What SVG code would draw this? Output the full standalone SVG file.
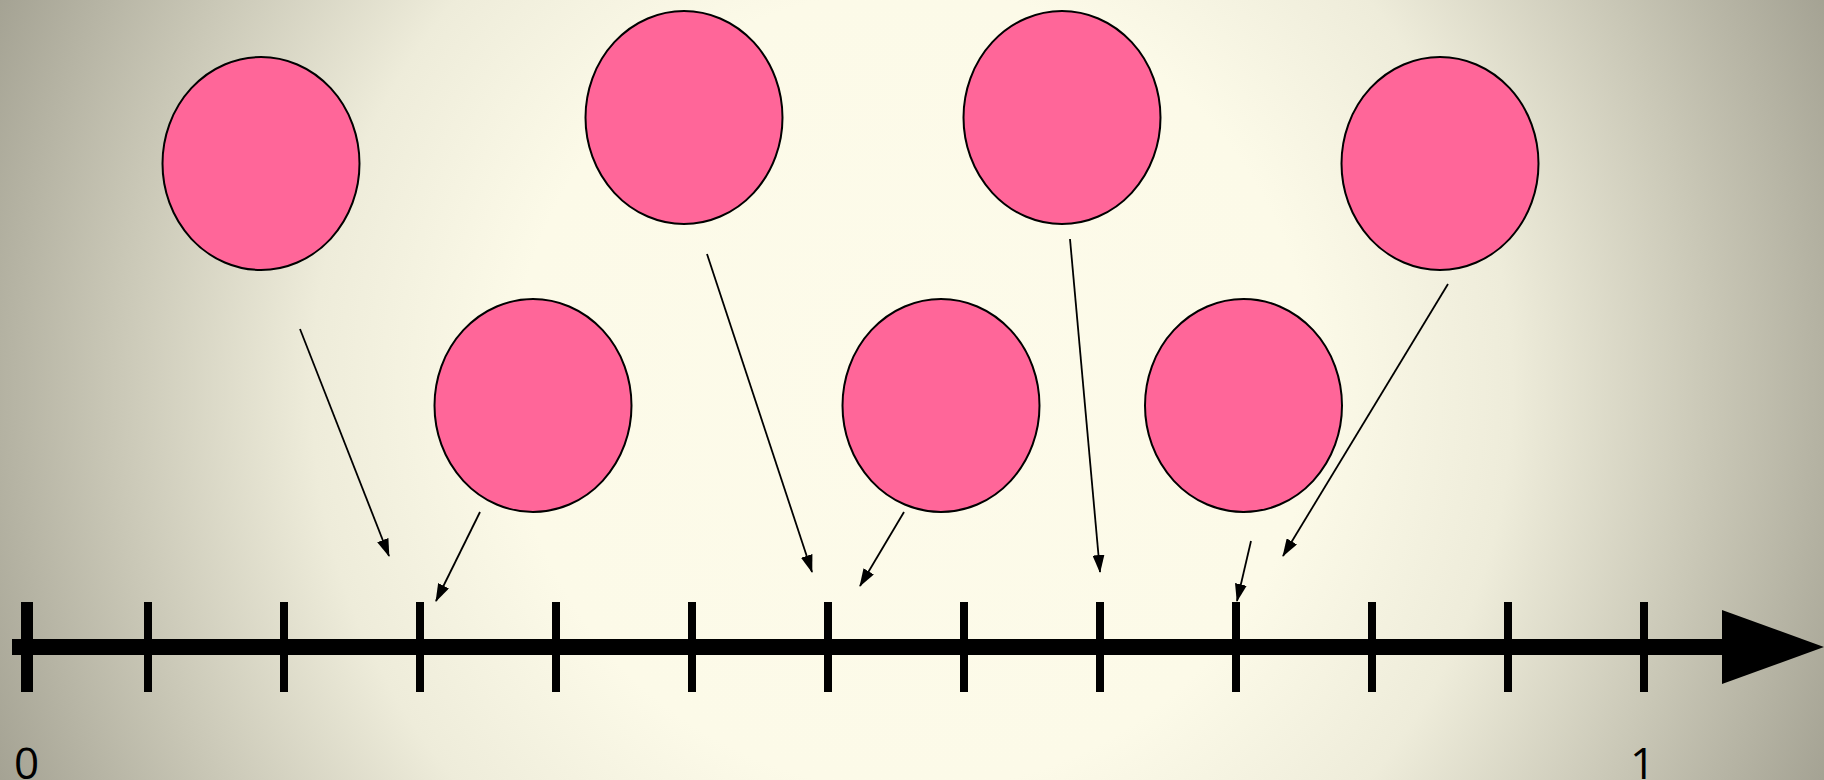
<svg xmlns="http://www.w3.org/2000/svg" width="1824" height="780" viewBox="0 0 1824 780">
<defs>
<radialGradient id="bg" gradientUnits="userSpaceOnUse" cx="912" cy="390" r="1000">
<stop offset="0" stop-color="#fdfbea"/>
<stop offset="0.4" stop-color="#fcfae8"/>
<stop offset="0.6" stop-color="#eeecda"/>
<stop offset="0.8" stop-color="#c9c7b6"/>
<stop offset="1" stop-color="#a3a192"/>
</radialGradient>
<marker id="ah" markerWidth="18" markerHeight="12" refX="17" refY="6" orient="auto" markerUnits="userSpaceOnUse">
<path d="M0,0 L18,6 L0,12 Z" fill="#000"/>
</marker>
<style>
.ball{fill:#ff6699;stroke:#000;stroke-width:2}
.arr{stroke:#000;stroke-width:1.8;fill:none;marker-end:url(#ah)}
.tick{fill:#000}
.lbl{font-family:"Open Sans","Noto Sans",sans-serif;font-size:44px;fill:#000}
</style>
</defs>
<rect width="1824" height="780" fill="url(#bg)"/>
<g id="ball1"><ellipse class="ball" cx="261" cy="163.5" rx="98.5" ry="106.5"/></g>
<g id="ball2"><ellipse class="ball" cx="684" cy="117.5" rx="98.5" ry="106.5"/></g>
<g id="ball3"><ellipse class="ball" cx="1062" cy="117.5" rx="98.5" ry="106.5"/></g>
<g id="ball4"><ellipse class="ball" cx="1440" cy="163.5" rx="98.5" ry="106.5"/></g>
<g id="ball5"><ellipse class="ball" cx="533" cy="405.5" rx="98.5" ry="106.5"/></g>
<g id="ball6"><ellipse class="ball" cx="941" cy="405.5" rx="98.5" ry="106.5"/></g>
<g id="ball7"><ellipse class="ball" cx="1243.5" cy="405.5" rx="98.5" ry="106.5"/></g>
<g id="axis">
<rect x="12" y="639" width="1712" height="16" fill="#000"/>
<path d="M1722,610 L1824,647 L1722,684 Z" fill="#000"/>
<rect class="tick" x="21" y="602" width="12" height="90"/>
<rect class="tick" x="144" y="602" width="8" height="90"/>
<rect class="tick" x="280" y="602" width="8" height="90"/>
<rect class="tick" x="416" y="602" width="8" height="90"/>
<rect class="tick" x="552" y="602" width="8" height="90"/>
<rect class="tick" x="688" y="602" width="8" height="90"/>
<rect class="tick" x="824" y="602" width="8" height="90"/>
<rect class="tick" x="960" y="602" width="8" height="90"/>
<rect class="tick" x="1096" y="602" width="8" height="90"/>
<rect class="tick" x="1232" y="602" width="8" height="90"/>
<rect class="tick" x="1368" y="602" width="8" height="90"/>
<rect class="tick" x="1504" y="602" width="8" height="90"/>
<rect class="tick" x="1640" y="602" width="8" height="90"/>
</g>
<g id="labels">
<text class="lbl" x="14" y="779">0</text>
<text class="lbl" x="1630" y="779">1</text>
</g>
<g id="connectors">
<line class="arr" x1="300" y1="329" x2="389" y2="556"/>
<line class="arr" x1="480" y1="512" x2="436" y2="601"/>
<line class="arr" x1="707" y1="254" x2="812" y2="572"/>
<line class="arr" x1="904" y1="512" x2="860" y2="586"/>
<line class="arr" x1="1070" y1="239" x2="1100" y2="572"/>
<line class="arr" x1="1251" y1="541" x2="1237" y2="601"/>
<line class="arr" x1="1448" y1="284" x2="1283" y2="556"/>
</g>
</svg>
